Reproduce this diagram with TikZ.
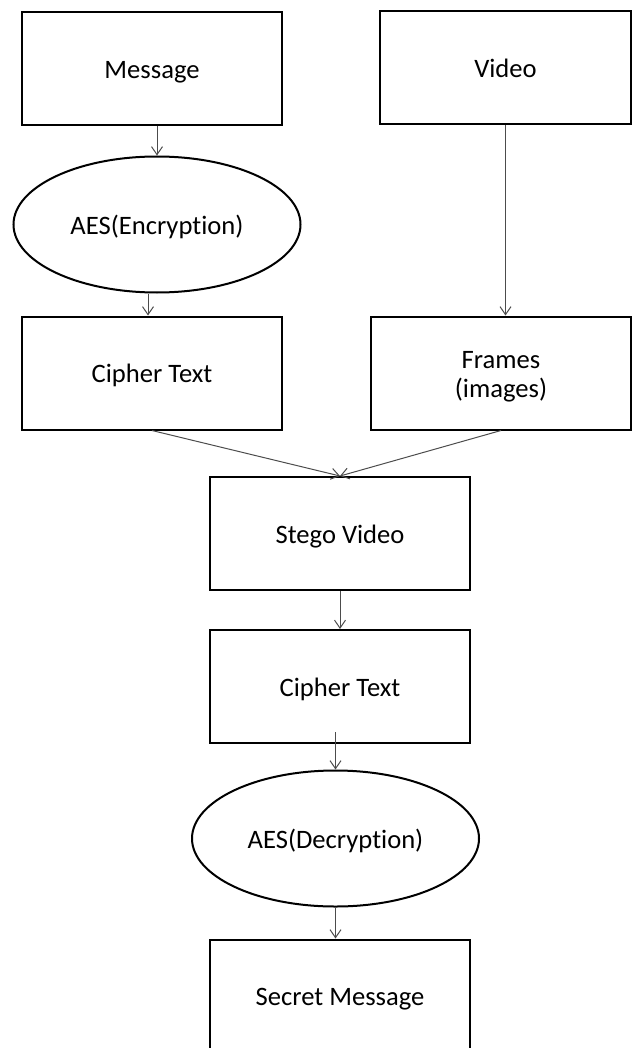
\documentclass[tikz,border=0pt]{standalone}
\usepackage{fontspec}
\setmainfont{Carlito}[Ligatures=NoCommon]
\usetikzlibrary{arrows.meta, shapes.geometric, calc}

\begin{document}
\begin{tikzpicture}[x=0.5pt,y=-0.5pt,>={Straight Barb[length=4pt,width=5.5pt]},
  every node/.style={font=\fontsize{13.3pt}{14.5pt}\selectfont,text height=12pt,text depth=2.2pt},
  blk/.style={draw,line width=1pt,minimum width=130pt,minimum height=56.5pt,inner sep=0pt,align=center},
  aes/.style={draw,ellipse,line width=1pt,minimum width=143.5pt,minimum height=68pt,inner sep=0pt},
  flow/.style={->,black!70,line width=0.5pt}]
\useasboundingbox (0,0) rectangle (633,1048);

% encryption side
\node[blk] at (152,68.5) (msg) {Message};
\node[aes] at (157,224.5) (enc) {AES(Encryption)};
\node[blk] at (152,373) (cipherA) {Cipher Text};

% video side
\node[blk,minimum width=125.5pt] at (505.5,68) (video) {Video};
\node[blk,text height=26.8pt,text depth=2.5pt] at (501,373) (frames) {Frames\\(images)};

% embedding and extraction
\node[blk] at (340,533.5) (stego) {Stego Video};
\node[blk] at (340,686.5) (cipherB) {Cipher Text};
\node[aes] at (335.5,838.5) (dec) {AES(Decryption)};
\node[blk] at (340,996) (secret) {Secret Message};

\draw [flow] (enc.north |- msg.south) to (enc.north);
\draw [flow] ([xshift=-4.5pt]enc.south) to ([xshift=-4.5pt]enc.south |- cipherA.north);
\draw [flow] (video.south) to (video.south |- frames.north);

\draw [flow] (cipherA.south) to (stego.north);
\draw [flow] (frames.south) to (stego.north);

\draw [flow] (stego.south) to (cipherB.north);
\draw [flow] ([yshift=6pt]cipherB.south -| dec.north) to (dec.north);
\draw [flow] (dec.south) to (dec.south |- secret.north);
\end{tikzpicture}
\end{document}
